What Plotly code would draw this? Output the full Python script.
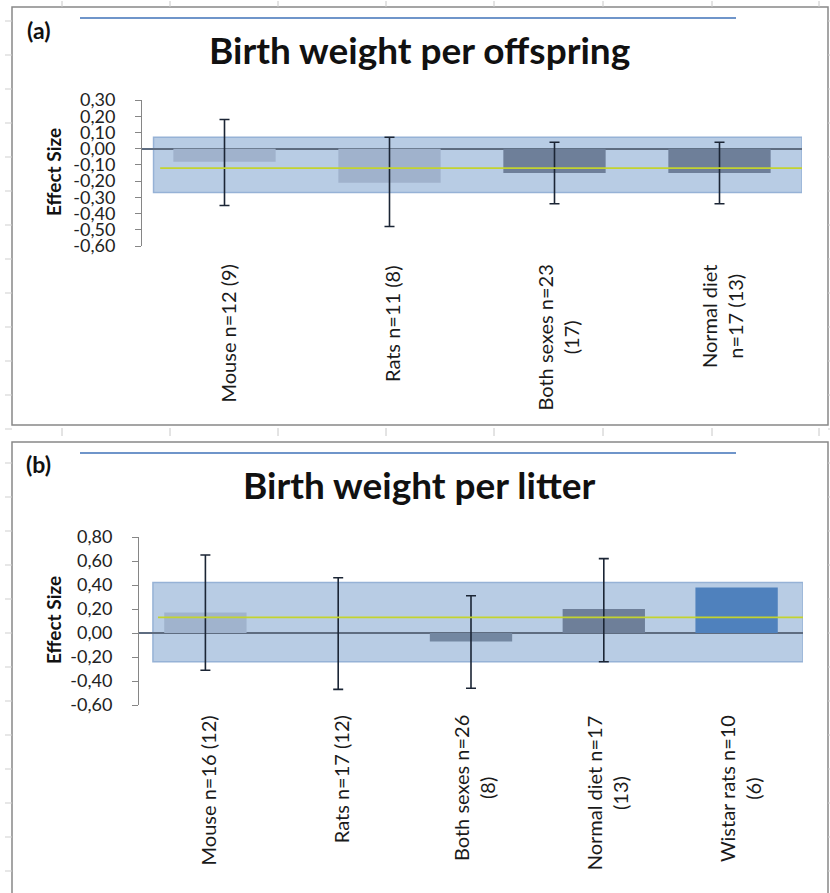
import plotly.graph_objects as go

# ---- Panel (a): birth weight per offspring ----
cats_a = ["Mouse n=12 (9)", "Rats n=11 (8)", "Both sexes n=23<br>(17)", "Normal diet<br>n=17 (13)"]
effect_a = [-0.08, -0.21, -0.15, -0.15]
ci_low_a = [-0.35, -0.48, -0.34, -0.34]
ci_high_a = [0.18, 0.07, 0.04, 0.04]
pooled_a = -0.12
pooled_ci_a = (-0.27, 0.07)
ticks_a = [0.30, 0.20, 0.10, 0.00, -0.10, -0.20, -0.30, -0.40, -0.50, -0.60]

# ---- Panel (b): birth weight per litter ----
cats_b = ["Mouse n=16 (12)", "Rats n=17 (12)", "Both sexes n=26<br>(8)",
          "Normal diet n=17<br>(13)", "Wistar rats n=10<br>(6)"]
effect_b = [0.17, 0.00, -0.07, 0.20, 0.38]
ci_low_b = [-0.31, -0.47, -0.46, -0.24, None]
ci_high_b = [0.65, 0.46, 0.31, 0.62, None]
pooled_b = 0.13
pooled_ci_b = (-0.24, 0.42)
ticks_b = [0.80, 0.60, 0.40, 0.20, 0.00, -0.20, -0.40, -0.60]

colors_a = ["#A0B2CC", "#A0B2CC", "#6E7F99", "#6E7F99"]
colors_b = ["#A0B3CD", "#A0B3CD", "#7387A1", "#6E7F99", "#4F81BD"]

W, H = 830, 893
LABEL_FONT = "Lato"
ERR_COLOR = "#1B2535"
BAND_FILL = "#B8CCE4"
BAND_LINE = "#96B2D6"
POOLED_COLOR = "#C3D32F"
FRAME = "#888888"


def comma(v):
    return f"{v:.2f}".replace(".", ",")


fig = go.Figure()

for cats, eff, lo, hi, cols, xa, ya in [
    (cats_a, effect_a, ci_low_a, ci_high_a, colors_a, "x", "y"),
    (cats_b, effect_b, ci_low_b, ci_high_b, colors_b, "x2", "y2"),
]:
    fig.add_trace(go.Bar(
        x=cats, y=eff, xaxis=xa, yaxis=ya,
        marker=dict(color=cols, line=dict(width=0)),
        showlegend=False, hoverinfo="skip",
    ))
    # confidence intervals, only for categories that report one
    keep = [i for i in range(len(cats)) if lo[i] is not None and hi[i] is not None]
    fig.add_trace(go.Scatter(
        x=[cats[i] for i in keep], y=[eff[i] for i in keep], xaxis=xa, yaxis=ya,
        mode="markers", marker=dict(size=1, opacity=0),
        error_y=dict(type="data", symmetric=False,
                     array=[round(hi[i] - eff[i], 4) for i in keep],
                     arrayminus=[round(eff[i] - lo[i], 4) for i in keep],
                     color=ERR_COLOR, thickness=1.6, width=5),
        showlegend=False, hoverinfo="skip",
    ))

shapes = []
annotations = []

panels = [
    ("x", "y", pooled_a, pooled_ci_a, -0.43, -0.39, len(cats_a), "Birth weight per offspring", "(a)", 50, 18, 172, 263, cats_a),
    ("x2", "y2", pooled_b, pooled_ci_b, -0.395, -0.357, len(cats_b), "Birth weight per litter", "(b)", 484, 453, 620, 713, cats_b),
]

for xr, yr, pooled, pci, band_x0, line_x0, n, title, tag, ty, by, ety, laby, cats in panels:
    # pooled confidence band
    shapes.append(dict(type="rect", xref=xr, yref=yr, x0=band_x0, x1=n - 0.5,
                       y0=pci[0], y1=pci[1], fillcolor=BAND_FILL,
                       line=dict(color=BAND_LINE, width=1.5), layer="below"))
    # pooled effect line
    shapes.append(dict(type="line", xref=xr, yref=yr, x0=line_x0, x1=n - 0.5,
                       y0=pooled, y1=pooled, line=dict(color=POOLED_COLOR, width=1.6),
                       layer="above"))
    # rule above the title
    shapes.append(dict(type="line", xref="paper", yref="paper", x0=80 / W, x1=736 / W,
                       y0=1 - by / H, y1=1 - by / H, line=dict(color="#3F72B8", width=1.5)))
    annotations.append(dict(text=f"<b>{title}</b>", xref="paper", yref="paper",
                            x=419 / W, y=1 - ty / H, showarrow=False,
                            font=dict(family="Lato", size=37, color="#111111"),
                            xanchor="center", yanchor="middle"))
    annotations.append(dict(text=f"<b>{tag}</b>", xref="paper", yref="paper",
                            x=38 / W, y=1 - (ty - 20) / H, showarrow=False,
                            font=dict(family="Lato", size=23, color="#111111"),
                            xanchor="center", yanchor="middle"))
    annotations.append(dict(text="<b>Effect Size</b>", xref="paper", yref="paper",
                            x=53 / W, y=1 - ety / H, showarrow=False, textangle=-90,
                            font=dict(family="Lato", size=19, color="#111111"),
                            xanchor="center", yanchor="middle"))
    for c in cats:
        annotations.append(dict(text=c, xref=xr, yref="paper", x=c, y=1 - laby / H,
                                showarrow=False, textangle=-90, align="center",
                                xanchor="center", yanchor="top", xshift=3,
                                font=dict(family=LABEL_FONT, size=20, color="#1A1A1A")))

# panel frames
shapes.append(dict(type="rect", xref="paper", yref="paper", x0=12 / W, x1=828 / W,
                   y0=1 - 425 / H, y1=1 - 7 / H, line=dict(color=FRAME, width=1.5)))
shapes.append(dict(type="rect", xref="paper", yref="paper", x0=12 / W, x1=828 / W,
                   y0=-0.01, y1=1 - 442 / H, line=dict(color=FRAME, width=1.5)))

# faint sheet grid ticks around the frames
grid_cols = [62, 170, 278, 386, 494, 603, 712, 819]
for gx in grid_cols:
    for y0, y1 in [(1, 7), (428, 436)]:
        shapes.append(dict(type="line", xref="paper", yref="paper", x0=gx / W, x1=gx / W,
                           y0=1 - y0 / H, y1=1 - y1 / H, line=dict(color="#C8C8C8", width=1)))
for k in range(26):
    gy = 21 + 34 * k
    if gy > 890:
        break
    for x0, x1 in [(5, 12), (828, 832)]:
        shapes.append(dict(type="line", xref="paper", yref="paper", x0=x0 / W, x1=x1 / W,
                           y0=1 - gy / H, y1=1 - gy / H, line=dict(color="#CFCFCF", width=1)))

common_y = dict(showline=True, linecolor="#868686", linewidth=1, ticks="outside",
                ticklen=6, tickcolor="#868686", showgrid=False, zeroline=True,
                zerolinecolor="#5E6C80", zerolinewidth=1.5, ticklabelstandoff=16,
                automargin=False,
                tickfont=dict(family="Lato", size=18, color="#222222"))
common_x = dict(type="category", showline=False, showticklabels=False, ticks="",
                showgrid=False, zeroline=False, automargin=False)

fig.update_layout(
    width=W, height=H, autosize=False,
    margin=dict(l=0, r=0, t=0, b=0, pad=0, autoexpand=False),
    paper_bgcolor="white", plot_bgcolor="rgba(0,0,0,0)",
    bargap=0.38, barmode="overlay",
    xaxis=dict(domain=[142 / W, 802 / W], anchor="y", range=[-0.5, len(cats_a) - 0.5], **common_x),
    yaxis=dict(domain=[1 - 246 / H, 1 - 100 / H], anchor="x", range=[-0.6, 0.3],
               tickvals=ticks_a, ticktext=[comma(v) for v in ticks_a], **common_y),
    xaxis2=dict(domain=[139 / W, 803 / W], anchor="y2", range=[-0.5, len(cats_b) - 0.5], **common_x),
    yaxis2=dict(domain=[1 - 705 / H, 1 - 537 / H], anchor="x2", range=[-0.6, 0.8],
                tickvals=ticks_b, ticktext=[comma(v) for v in ticks_b], **common_y),
    shapes=shapes,
    annotations=annotations,
)

fig.write_html("out.html")
